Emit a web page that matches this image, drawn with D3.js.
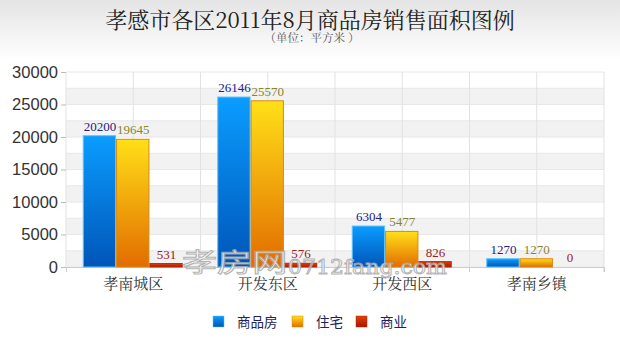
<!DOCTYPE html>
<html>
<head>
<meta charset="utf-8">
<script src="https://cdn.jsdelivr.net/npm/d3@7"></script>
<style>
  body { margin: 0; background: #fff; }
  svg { display: block; }
</style>
</head>
<body>
<div id="chart"></div>
<script>
const categories = ["孝南城区", "开发东区", "开发西区", "孝南乡镇"];
const seriesNames = ["商品房", "住宅", "商业"];
const shangpinfang = [20200, 26146, 6304, 1270];
const zhuzhai = [19645, 25570, 5477, 1270];
const shangye = [531, 576, 826, 0];
const yTicks = [0, 5000, 10000, 15000, 20000, 25000, 30000];

const W = 620, H = 353;
const margin = {top: 72, right: 16, bottom: 86, left: 66},
    width = W - margin.left - margin.right,
    height = H - margin.top - margin.bottom;

const svg = d3.select("#chart").append("svg")
    .attr("width", W).attr("height", H)
    .style("font-family", "'Liberation Serif', 'Noto Sans CJK SC', serif");

const defs = svg.append("defs");
const bg = defs.append("linearGradient").attr("id", "bg").attr("x1", 0).attr("y1", 0).attr("x2", 0).attr("y2", 1);
bg.append("stop").attr("offset", "0%").attr("stop-color", "#e4e4e4");
bg.append("stop").attr("offset", "17%").attr("stop-color", "#ffffff");
bg.append("stop").attr("offset", "100%").attr("stop-color", "#ffffff");
svg.append("rect").attr("width", W).attr("height", H).attr("fill", "url(#bg)");

const grads = [
  {id: "g0", top: "#0a9dff", bot: "#0055b8", stroke: "#5cc2ff"},
  {id: "g1", top: "#ffe018", bot: "#e26c00", stroke: "#d88a10"},
  {id: "g2", top: "#e0400a", bot: "#a81500", stroke: "#c22a00"}
];
grads.forEach(g => {
  const lg = defs.append("linearGradient").attr("id", g.id).attr("x1", 0).attr("y1", 0).attr("x2", 0).attr("y2", 1);
  lg.append("stop").attr("offset", "0%").attr("stop-color", g.top);
  lg.append("stop").attr("offset", "100%").attr("stop-color", g.bot);
});
const labelColors = ["#222288", "#85852e", "#992222"];

// titles
svg.append("text").attr("x", 310).attr("y", 28).attr("text-anchor", "middle")
  .style("font-size", "22px").style("fill", "#222")
  .style("font-family", "'Noto Serif CJK SC', 'Noto Sans CJK SC', serif")
  .text("孝感市各区2011年8月商品房销售面积图例");
svg.append("text").attr("x", 312).attr("y", 42).attr("text-anchor", "middle")
  .style("font-size", "11.5px").style("fill", "#555")
  .style("font-family", "'Noto Serif CJK SC', 'Noto Sans CJK SC', serif")
  .text("（单位：平方米 ）");

const g = svg.append("g").attr("transform", `translate(${margin.left}, ${margin.top})`);

const x = d3.scaleBand().domain(categories).range([0, width]).padding(0);
const y = d3.scaleLinear().domain([0, 30000]).range([height, 0]);
const xs = d3.scaleBand().domain(seriesNames).range([-50, 50]).padding(0);

// alternating bands
const bands = d3.range(0, 30000, 2500);
g.selectAll(".band").data(bands.filter((d, i) => i % 2 === 0))
  .join("rect")
    .attr("x", 0).attr("width", width)
    .attr("y", d => y(d + 2500)).attr("height", d => y(d) - y(d + 2500))
    .attr("fill", "#f2f2f2");
g.selectAll(".hline").data(bands.concat([30000]))
  .join("line")
    .attr("x1", 0).attr("x2", width)
    .attr("y1", d => y(d)).attr("y2", d => y(d))
    .attr("stroke", "#e8e8e8");

// vertical grid lines every half category
const vlines = d3.range(0, 9).map(i => i * width / 8);
g.selectAll(".vline").data(vlines)
  .join("line")
    .attr("x1", d => d).attr("x2", d => d)
    .attr("y1", 0).attr("y2", height)
    .attr("stroke", "#e2e2e2");

// y axis
const yAxis = g.append("g").call(d3.axisLeft(y).tickValues(yTicks).tickFormat(d3.format("d")).tickSize(5).tickPadding(3));
yAxis.select(".domain").remove();
yAxis.selectAll(".tick line").attr("stroke", "#bbb");
yAxis.selectAll("text")
  .style("font-size", "16.5px").style("fill", "#333")
  .style("font-family", "'Liberation Sans', Arial, sans-serif");

// x axis
const xAxis = g.append("g").attr("transform", `translate(0, ${height})`)
  .call(d3.axisBottom(x).tickSize(5).tickPadding(6));
xAxis.select(".domain").attr("stroke", "#ccc");
xAxis.selectAll(".tick line").attr("stroke", "#ccc").attr("transform", `translate(${x.bandwidth() / 2},0)`);
xAxis.selectAll("text")
  .style("font-size", "15px").style("fill", "#333")
  .style("font-family", "'Noto Serif CJK SC', 'Noto Sans CJK SC', serif");

const series = [shangpinfang, zhuzhai, shangye];
series.forEach((vals, si) => {
  const grp = g.append("g");
  grp.selectAll("rect").data(vals)
    .join("rect")
      .attr("x", (d, i) => x(categories[i]) + x.bandwidth() / 2 + xs(seriesNames[si]))
      .attr("width", xs.bandwidth() - 1)
      .attr("y", d => y(d))
      .attr("height", d => y(0) - y(d))
      .attr("fill", `url(#${grads[si].id})`)
      .attr("stroke", d => d > 0 ? grads[si].stroke : "none")
      .attr("stroke-width", 1);
});

// watermark
const wm = svg.append("g").style("opacity", 0.85);
wm.append("text").attr("transform", "translate(182,272) scale(1.35,1)")
  .style("font-size", "26px")
  .style("fill", "#fff").style("stroke", "#aaa").style("stroke-width", 1)
  .style("font-family", "'Noto Sans CJK SC', sans-serif")
  .text("孝房网");
wm.append("text").attr("transform", "translate(288,274) scale(1.1,1)")
  .style("font-size", "20px")
  .style("fill", "#fff").style("stroke", "#aaa").style("stroke-width", 1)
  .style("font-family", "'DejaVu Serif', serif")
  .text("0712fang.com");

// value labels above bars
series.forEach((vals, si) => {
  g.append("g").selectAll("text").data(vals)
    .join("text")
      .attr("x", (d, i) => x(categories[i]) + x.bandwidth() / 2 + xs(seriesNames[si]) + xs.bandwidth() / 2)
      .attr("y", d => y(d) - 5)
      .attr("text-anchor", "middle")
      .style("font-size", "13px")
      .style("fill", labelColors[si])
      .style("font-family", "'Liberation Serif', serif")
      .text(d => d);
});

// legend
const legendX = [210, 289, 353];
const lg = svg.append("g").attr("transform", "translate(0, 322)");
seriesNames.forEach((name, i) => {
  lg.append("rect").attr("x", legendX[i] + 3).attr("y", -6).attr("width", 11).attr("height", 11)
    .attr("fill", `url(#${grads[i].id})`).attr("stroke", grads[i].stroke).attr("stroke-width", 0.5);
  lg.append("text").attr("x", legendX[i] + 27).attr("y", 5)
    .style("font-size", "13.5px").style("fill", "#222255")
    .style("font-family", "'Noto Sans CJK SC', sans-serif")
    .text(name);
});
</script>
</body>
</html>
